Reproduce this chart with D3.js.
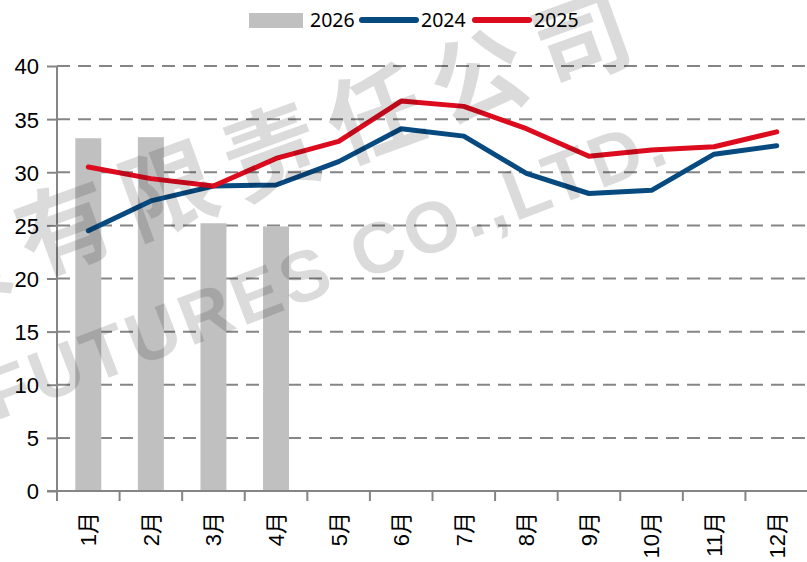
<!DOCTYPE html>
<html>
<head>
<meta charset="utf-8">
<script src="https://cdn.jsdelivr.net/npm/d3@7/dist/d3.min.js"></script>
<style>
  html, body { margin: 0; padding: 0; background: #fff; }
  svg { display: block; }
</style>
</head>
<body>
<svg id="chart" width="807" height="562"></svg>
<script>
// months on the x axis
const months = ["1月", "2月", "3月", "4月", "5月", "6月", "7月", "8月", "9月", "10月", "11月", "12月"];
// 2026 only has the first four months so far
const values2026 = [33.2, 33.3, 25.2, 24.9];
const values2024 = [24.5, 27.3, 28.7, 28.8, 31.0, 34.1, 33.4, 29.9, 28.0, 28.3, 31.7, 32.5];
const values2025 = [30.5, 29.4, 28.7, 31.3, 32.9, 36.7, 36.2, 34.1, 31.5, 32.1, 32.4, 33.8];
const yTicks = [0, 5, 10, 15, 20, 25, 30, 35, 40];

const legendItems = [
  { name: "2026", kind: "bar", color: "#c0c0c0" },
  { name: "2024", kind: "line", color: "#074a80" },
  { name: "2025", kind: "line", color: "#dc0b1e" },
];

const W = 807, H = 562;
const margin = { top: 66, right: -1, bottom: 71, left: 57 };
const innerW = W - margin.left - margin.right;
const innerH = H - margin.top - margin.bottom;

const FONT = "'Liberation Sans', Arial, 'Noto Sans CJK SC', sans-serif";
const AXIS_GRAY = "#858585";

const svg = d3.select("#chart");
const g = svg.append("g").attr("transform", `translate(${margin.left},${margin.top})`);

const x = d3.scaleBand().domain(months).range([0, innerW]).padding(0);
const y = d3.scaleLinear().domain([0, 40]).range([innerH, 0]);
const barW = x.bandwidth() * 0.415;

// dashed gridlines (skip 0, the axis covers it)
g.append("g")
  .selectAll("line")
  .data(yTicks.filter((d) => d > 0))
  .join("line")
  .attr("x1", 0).attr("x2", innerW + 2)
  .attr("y1", (d) => y(d)).attr("y2", (d) => y(d))
  .attr("stroke", AXIS_GRAY)
  .attr("stroke-width", 2)
  .attr("stroke-dasharray", "13,8");

// y axis: short solid ticks on the left + labels
const yAxis = g.append("g")
  .call(d3.axisLeft(y).tickValues(yTicks).tickSize(10).tickPadding(8));
yAxis.select(".domain").remove();
yAxis.selectAll(".tick line").attr("stroke", AXIS_GRAY).attr("stroke-width", 2);
yAxis.selectAll(".tick text")
  .attr("font-family", FONT)
  .attr("font-size", 22)
  .attr("fill", "#000")
  .attr("dy", "0.36em");

// 2026 bars
g.append("g")
  .selectAll("rect")
  .data(values2026)
  .join("rect")
  .attr("x", (d, i) => x(months[i]) + (x.bandwidth() - barW) / 2)
  .attr("y", (d) => y(d))
  .attr("width", barW)
  .attr("height", (d) => y(0) - y(d))
  .attr("fill", legendItems[0].color);

// y axis line
g.append("line")
  .attr("x1", 0).attr("x2", 0)
  .attr("y1", 0).attr("y2", innerH)
  .attr("stroke", AXIS_GRAY).attr("stroke-width", 2);

// x axis line
g.append("line")
  .attr("x1", -10).attr("x2", innerW + 2)
  .attr("y1", innerH).attr("y2", innerH)
  .attr("stroke", AXIS_GRAY).attr("stroke-width", 2);

// x tick marks sit on the band boundaries
g.append("g")
  .selectAll("line")
  .data(months)
  .join("line")
  .attr("x1", (d) => x(d)).attr("x2", (d) => x(d))
  .attr("y1", innerH).attr("y2", innerH + 10)
  .attr("stroke", AXIS_GRAY).attr("stroke-width", 2);

// x labels, rotated to read bottom-to-top
const xAxis = g.append("g")
  .attr("transform", `translate(0,${innerH})`)
  .call(d3.axisBottom(x).tickSize(0));
xAxis.select(".domain").remove();
xAxis.selectAll(".tick text")
  .attr("font-family", FONT)
  .attr("font-size", 22)
  .attr("fill", "#000")
  .attr("transform", "rotate(-90)")
  .attr("text-anchor", "end")
  .attr("x", -21)
  .attr("y", 0)
  .attr("dy", "0.36em");

// lines
const line = d3.line()
  .x((d, i) => x(months[i]) + x.bandwidth() / 2)
  .y((d) => y(d));

[[values2024, legendItems[1].color], [values2025, legendItems[2].color]].forEach(([vals, color]) => {
  g.append("path")
    .datum(vals)
    .attr("d", line)
    .attr("fill", "none")
    .attr("stroke", color)
    .attr("stroke-width", 5)
    .attr("stroke-linejoin", "round")
    .attr("stroke-linecap", "round");
});

// legend across the top
const legendX = [249, 360, 473];
const legend = svg.append("g");
legendItems.forEach((item, i) => {
  const lx = legendX[i];
  if (item.kind === "bar") {
    legend.append("rect")
      .attr("x", lx).attr("y", 13)
      .attr("width", 54).attr("height", 15)
      .attr("fill", item.color);
  } else {
    legend.append("line")
      .attr("x1", lx + 2).attr("x2", lx + 56)
      .attr("y1", 20).attr("y2", 20)
      .attr("stroke", item.color)
      .attr("stroke-width", 6)
      .attr("stroke-linecap", "round");
  }
  legend.append("text")
    .attr("x", lx + 61)
    .attr("y", 27)
    .attr("font-family", "'Noto Sans', sans-serif")
    .attr("font-size", 19.5)
    .attr("fill", "#000")
    .text(item.name);
});

// watermark on top of everything
const wm = svg.append("g")
  .attr("pointer-events", "none")
  .attr("fill", "#000")
  .attr("fill-opacity", 0.14)
  .attr("font-weight", 700);

wm.append("text")
  .attr("transform", "translate(-187,318) rotate(-20)")
  .attr("font-family", "'Noto Sans CJK SC', sans-serif")
  .attr("font-size", 95)
  .attr("letter-spacing", 15)
  .attr("dy", "0.38em")
  .text("期货有限责任公司");

wm.append("text")
  .attr("transform", "translate(-4,421) rotate(-21)")
  .attr("font-family", "'Liberation Sans', Arial, sans-serif")
  .attr("font-size", 72)
  .attr("letter-spacing", 4)
  .text("FUTURES CO.,LTD.");
</script>
</body>
</html>
